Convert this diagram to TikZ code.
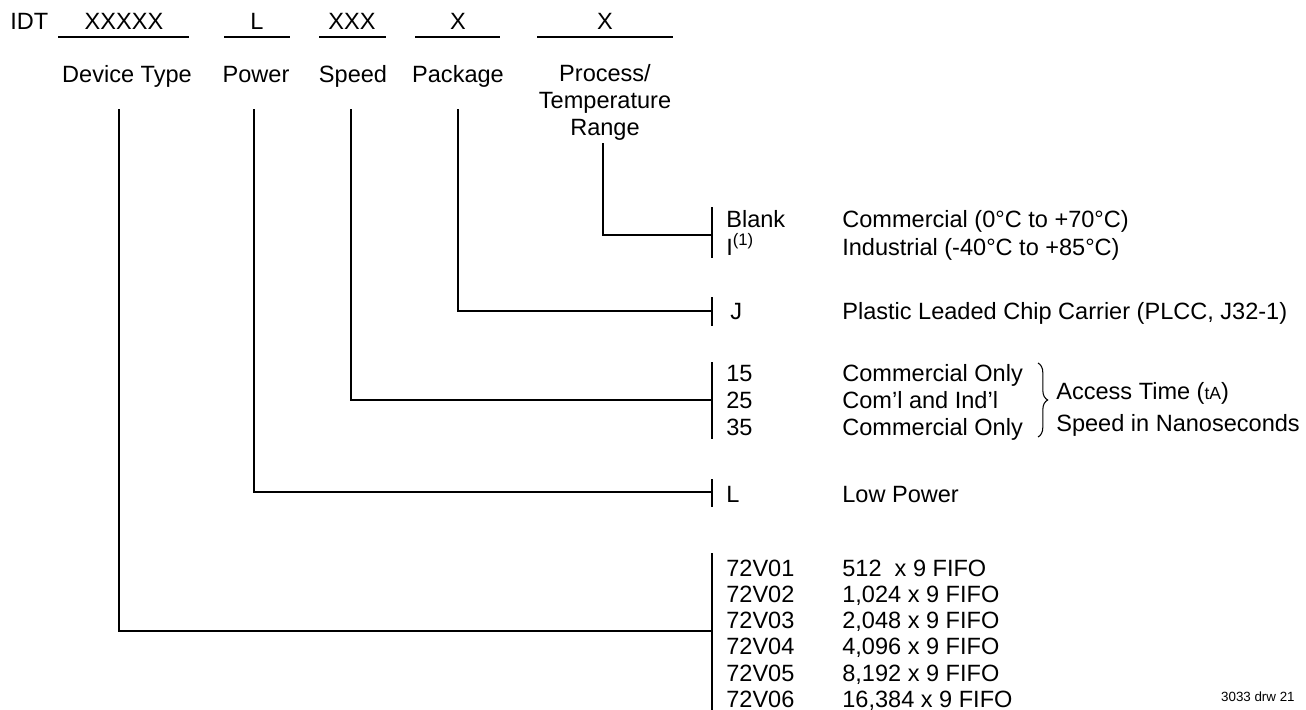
\documentclass[tikz,border=0pt]{standalone}
\usepackage{fontspec}
\setmainfont{Liberation Sans}
\usetikzlibrary{positioning,calc,decorations.pathreplacing}

\begin{document}
\begin{tikzpicture}[
    x=0.02cm, y=-0.02cm,
    font=\fontsize{13.4}{15.3}\selectfont,
    txt/.style={inner sep=0pt, text height=9.5pt, text depth=0pt},
    entry/.style={txt, anchor=west},
    line/.style={line width=0.6pt},
    tiny/.style={font=\fontsize{7.6}{9}\selectfont, inner sep=0pt}
]
    \useasboundingbox (0,0) rectangle (1306,710);

    % Ordering code fields
    \node[entry] (idt) at (10,21) {IDT};
    \node[txt] (fdev) at (124,21) {XXXXX};
    \node[txt] (fpwr) at (257,21) {L};
    \node[txt] (fspd) at (352,21) {XXX};
    \node[txt] (fpkg) at (458,21) {X};
    \node[txt] (fproc) at (605,21) {X};
    \draw[line] (58,37) -- (189,37);
    \draw[line] (224,37) -- (290,37);
    \draw[line] (319,37) -- (386,37);
    \draw[line] (415,37) -- (500,37);
    \draw[line] (537,37) -- (673,37);

    % Field names
    \node[txt] (ndev) at (127,74) {Device Type};
    \node[txt] (npwr) at (256,74) {Power};
    \node[txt] (nspd) at (353,74) {Speed};
    \node[txt] (npkg) at (458,74) {Package};
    \node[inner sep=0pt, anchor=north, align=center] (nproc) at (605,64)
        {Process/\\Temperature\\Range};

    % Tree
    \coordinate (devtop) at (119,109);
    \coordinate (pwrtop) at (254,109);
    \coordinate (spdtop) at (351,109);
    \coordinate (pkgtop) at (458,109);
    \coordinate (proctop) at (603,143);
    \coordinate (procbar) at (712,235);
    \coordinate (pkgbar) at (712,311);
    \coordinate (spdbar) at (712,400);
    \coordinate (pwrbar) at (712,492);
    \coordinate (devbar) at (712,631);
    \draw[line] (proctop) |- (procbar);
    \draw[line] (pkgtop) |- (pkgbar);
    \draw[line] (spdtop) |- (spdbar);
    \draw[line] (pwrtop) |- (pwrbar);
    \draw[line] (devtop) |- (devbar);
    \draw[line] (712,207) -- (712,258);
    \draw[line] (712,297) -- (712,326);
    \draw[line] (712,362) -- (712,439);
    \draw[line] (712,479) -- (712,507);
    \draw[line] (712,553) -- (712,710);

    % Process / temperature
    \node[entry] (blank) at (726,219) {Blank};
    \node[entry] (ind) at (726,247) {I\raisebox{0.42em}{\fontsize{9.5}{10}\selectfont(1)}};
    \node[entry] (comtemp) at (842,219) {Commercial (0°C to +70°C)};
    \node[entry] (indtemp) at (842,247) {Industrial (-40°C to +85°C)};

    % Package
    \node[entry] (j) at (730,311) {J};
    \node[entry] (plcc) at (842,311) {Plastic Leaded Chip Carrier (PLCC, J32-1)};

    % Speed
    \node[entry] (s15) at (726,373) {15};
    \node[entry] (s25) at (726,400) {25};
    \node[entry] (s35) at (726,427) {35};
    \node[entry] (c15) at (842,373) {Commercial Only};
    \node[entry] (c25) at (842,400) {Com'l and Ind'l};
    \node[entry] (c35) at (842,427) {Commercial Only};
    \coordinate (brtop) at (1038,363);
    \coordinate (brbot) at (1038,437);
    \draw[line, decorate, decoration={brace, amplitude=5.5pt}] (brtop) -- (brbot);
    \node[entry] (acc) at (1056,391) {Access Time ({\fontsize{10}{11}\selectfont tA})};
    \node[entry] (nano) at (1056,423) {Speed in Nanoseconds};

    % Power
    \node[entry] (lp) at (726,494) {L};
    \node[entry] (lowp) at (842,494) {Low Power};

    % Device type
    \node[entry] (d01) at (726,568) {72V01};
    \node[entry] (d02) at (726,594) {72V02};
    \node[entry] (d03) at (726,620) {72V03};
    \node[entry] (d04) at (726,646) {72V04};
    \node[entry] (d05) at (726,673) {72V05};
    \node[entry] (d06) at (726,699) {72V06};
    \node[entry] (f01) at (842,568) {512~ x 9 FIFO};
    \node[entry] (f02) at (842,594) {1,024 x 9 FIFO};
    \node[entry] (f03) at (842,620) {2,048 x 9 FIFO};
    \node[entry] (f04) at (842,646) {4,096 x 9 FIFO};
    \node[entry] (f05) at (842,673) {8,192 x 9 FIFO};
    \node[entry] (f06) at (842,699) {16,384 x 9 FIFO};

    \node[tiny, anchor=base east] (drw) at (1295,701) {3033 drw 21};
\end{tikzpicture}
\end{document}
